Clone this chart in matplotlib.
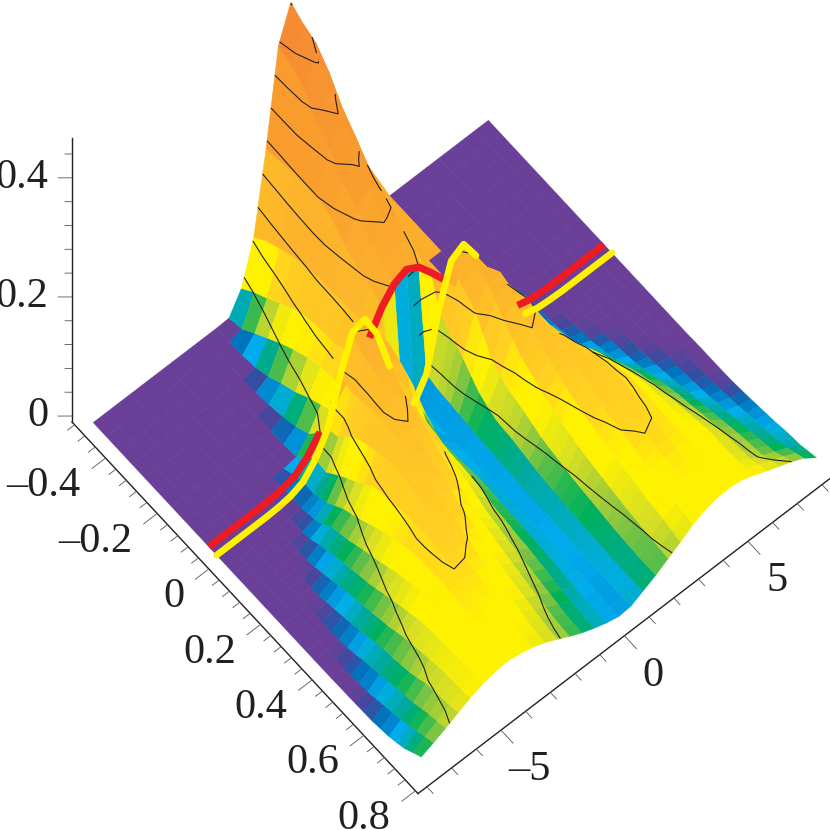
import numpy as np
import matplotlib
matplotlib.use("Agg")
import matplotlib.pyplot as plt
from matplotlib.colors import LinearSegmentedColormap
from mpl_toolkits.mplot3d import proj3d

plt.rcParams['font.family'] = ['Liberation Serif', 'DejaVu Serif']

# grid of the surface
x_vals = [-0.482, -0.432, -0.382, -0.332, -0.282, -0.232, -0.177, -0.127, -0.077, -0.034, -0.004, 0.038,
          0.063, 0.088, 0.12, 0.153, 0.185, 0.218, 0.25, 0.278, 0.31, 0.343, 0.375, 0.408, 0.44, 0.468,
          0.5, 0.533, 0.565, 0.598, 0.63, 0.663, 0.695, 0.723, 0.755, 0.788]
y_vals = [-8, -7.5, -7, -6.5, -6, -5.5, -5, -4.5, -4, -3.5, -3, -2.5, -2, -1.5, -1, -0.5, 0,
          0.5, 1, 1.5, 2, 2.5, 3, 3.5, 4, 4.5, 5, 5.5, 6, 6.5, 7, 7.5, 8]

height = [
    [0,0,0,0,0,0,0,0,0,0,0, .001,.035,.105,.238,.395,.452,.40,.33,.27,.2,.14,.09,.045,0,0, 0,0,0,0,0,0,0],
    [0,0,0,0,0,0,0,0,0,0,0, .006,.052,.122,.242,.385,.43,.39,.315,.245,.175,.12,.07,.025,0,0, 0,0,0,0,0,0,0],
    [0,0,0,0,0,0,0,0,0,0, .001,.022,.065,.133,.248,.37,.405,.365,.29,.22,.155,.1,.06,.015,0,0, 0,0,0,0,0,0,0],
    [0,0,0,0,0,0,0,0,0,0, .004,.037,.08,.143,.25,.335,.37,.33,.262,.195,.135,.09,.055,.007,0,0, 0,0,0,0,0,0,0],
    [0,0,0,0,0,0,0,0,0, .001,.012,.052,.095,.15,.25,.315,.34,.306,.24,.18,.125,.08,.045,0,0,0, 0,0,0,0,0,0,0],
    [0,0,0,0,0,0,0,0,0, .004,.024,.065,.104,.155,.24,.28,.307,.28,.218,.165,.115,.07,.033,0,0,0, 0,0,0,0,0,0,0],
    [0,0,0,0,0,0,0,0, .001,.009,.035,.077,.11,.155,.218,.26,.282,.262,.2,.155,.105,.05,.02,0,0,0, 0,0,0,0,0,0,0],
    [0,0,0,0,0,0,0,0, .002,.016,.049,.085,.11,.157,.204,.228,.253,.245,.19,.14,.09,.04,.015,0,0,0, 0,0,0,0,0,0,0],
    [0,0,0,0,0,0,0,0, .004,.027,.06,.088,.12,.16,.195,.215,.226,.228,.17,.135,.09,.04,.015,0,0,0, 0,0,0,0,0,0,0],
    [0,0,0,0,0, .001,.003,.009,.025,.05,.07,.095,.125,.145,.18,.203,.212,.2,.175,.148,.12,.095,.07,.045,.025,.009,.003,.001, 0,0,0,0,0],
    [0,0,0,0,0, .001,.004,.012,.034,.07,.143,.2,.206,.165,.095,.03,.002,.035,.128,.193,.205,.17,.12,.07,.03,.009,.003,.001, 0,0,0,0,0],
    [0,0,0,0,0, .001,.004,.012,.032,.075,.135,.18,.195,.17,.115,.04,.004,.03,.105,.17,.195,.17,.125,.075,.035,.011,.004,.001, 0,0,0,0,0],
    [0,0,0,0,.0005,.002,.006,.016,.041,.088,.138,.176,.187,.164,.11,.041,.005,.029,.098,.163,.19,.178,.133,.085,.045,.016,.005,.0015,.0005,0,0,0,0],
    [0,0,0,0, .001,.003,.008,.02,.05,.1,.14,.172,.178,.158,.105,.042,.006,.028,.09,.155,.185,.185,.14,.095,.055,.022,.007,.002,.001, 0,0,0,0],
    [0,0,0,0,.0015,.006,.015,.03,.06,.108,.143,.169,.164,.133,.081,.033,.0065,.026,.075,.128,.168,.18,.148,.1,.058,.026,.01,.0035,.0015,.0005,0,0,0],
    [0,0,0,0, .002,.012,.026,.04,.07,.115,.145,.165,.15,.108,.057,.025,.007,.025,.06,.1,.15,.175,.155,.105,.062,.03,.013,.005,.002,.001, 0,0,0],
    [0,0,0,.0005,.005,.017,.03,.046,.081,.12,.144,.157,.143,.106,.058,.026,.008,.023,.052,.09,.135,.162,.148,.11,.073,.042,.021,.009,.004,.0015,.0005,0,0],
    [0,0,0, .001,.009,.022,.034,.053,.093,.125,.142,.148,.135,.103,.058,.027,.009,.022,.045,.08,.12,.148,.14,.115,.085,.055,.03,.013,.006,.002,.001, 0,0],
    [0,0,.0002,.003,.013,.026,.04,.06,.097,.125,.139,.141,.127,.097,.058,.028,.0095,.021,.043,.076,.112,.139,.139,.118,.093,.065,.039,.018,.008,.003,.0015,.0005,0],
    [0,0, .0005,.005,.017,.029,.045,.067,.1,.125,.136,.134,.118,.09,.058,.03,.01,.02,.042,.072,.105,.13,.137,.12,.1,.075,.048,.024,.01,.004,.002,.001, 0],
    [0,0,.001,.008,.021,.033,.05,.073,.102,.122,.132,.129,.111,.085,.056,.03,.0105,.019,.039,.066,.096,.121,.133,.122,.104,.08,.054,.031,.015,.006,.003,.0015,.0005],
    [0,0, .002,.011,.024,.036,.055,.08,.104,.12,.128,.124,.103,.08,.054,.03,.011,.018,.036,.06,.088,.113,.128,.124,.108,.085,.06,.038,.02,.009,.004,.002,.001],
    [0,.0005,.003,.014,.028,.041,.061,.085,.106,.119,.122,.114,.094,.073,.05,.029,.0115,.017,.033,.056,.083,.106,.122,.121,.109,.088,.065,.043,.025,.012,.0055,.0025,.001],
    [0, .001,.005,.018,.031,.047,.067,.09,.108,.117,.116,.103,.085,.066,.046,.028,.012,.016,.031,.053,.078,.1,.116,.118,.11,.092,.07,.048,.03,.015,.007,.003,.001],
    [.0002,.0015,.008,.022,.035,.051,.071,.092,.106,.113,.11,.098,.08,.062,.045,.028,.012,.016,.03,.05,.074,.096,.11,.114,.108,.091,.072,.051,.034,.019,.009,.004,.0015],
    [.0005,.002,.012,.026,.038,.056,.075,.093,.104,.108,.104,.092,.075,.059,.043,.027,.012,.016,.028,.047,.07,.092,.105,.11,.105,.09,.073,.054,.037,.022,.011,.005,.002],
    [.0007,.0035,.015,.029,.043,.06,.079,.094,.102,.104,.098,.086,.07,.055,.041,.026,.0125,.016,.027,.045,.067,.088,.101,.106,.103,.09,.075,.057,.04,.025,.014,.007,.0035],
    [.001,.005,.018,.031,.048,.065,.082,.094,.1,.099,.092,.08,.066,.052,.04,.025,.013,.016,.026,.043,.064,.084,.097,.102,.1,.09,.076,.06,.044,.029,.017,.009,.005],
    [.0015,.008,.022,.034,.051,.068,.083,.093,.097,.095,.088,.076,.062,.049,.037,.024,.013,.0155,.025,.041,.061,.08,.094,.099,.098,.09,.078,.063,.047,.032,.02,.012,.007],
    [.002,.012,.025,.037,.054,.07,.083,.091,.094,.091,.083,.071,.058,.046,.035,.023,.013,.015,.024,.039,.058,.077,.09,.096,.096,.09,.079,.066,.05,.036,.024,.015,.009],
    [.004,.015,.028,.042,.057,.071,.083,.089,.091,.088,.08,.068,.055,.043,.032,.021,.013,.0145,.023,.037,.055,.073,.087,.093,.093,.088,.079,.067,.052,.039,.027,.017,.011],
    [.006,.018,.031,.048,.06,.072,.082,.087,.088,.084,.076,.065,.052,.04,.03,.02,.013,.014,.022,.036,.053,.07,.083,.09,.09,.086,.078,.067,.054,.042,.03,.02,.014],
    [.01,.023,.036,.05,.062,.073,.081,.085,.085,.08,.072,.061,.048,.037,.027,.018,.0125,.0135,.021,.035,.051,.068,.08,.087,.089,.085,.078,.067,.055,.044,.033,.023,.016],
    [.014,.028,.04,.052,.063,.074,.08,.083,.082,.076,.068,.058,.045,.034,.025,.017,.012,.013,.021,.034,.05,.066,.078,.085,.087,.085,.078,.068,.056,.046,.036,.027,.017],
    [.022,.033,.043,.054,.064,.074,.079,.082,.079,.074,.065,.055,.043,.033,.024,.017,.012,.0135,.022,.034,.048,.062,.075,.083,.086,.085,.08,.071,.061,.052,.043,.033,.021],
    [.03,.038,.047,.057,.066,.074,.078,.08,.076,.071,.063,.053,.042,.032,.024,.017,.012,.014,.024,.034,.046,.058,.071,.08,.085,.086,.083,.075,.066,.058,.05,.04,.025],
]
red_row = 9
yellow_row = 10
red_hidden = [-3, -2.5, -2, 2, 2.5, 3, 3.5, 4]
yellow_hidden = [-0.5, 3, 3.5, 4]

contour_levels = [0.05, 0.10, 0.15, 0.20, 0.25, 0.30, 0.35, 0.40, 0.45]

# colour against height
color_z = [0, .0015, .004, .007, .014, .022, .03, .042, .055, .07, .085, .10, .13, .19, .27, .40, .47]
color_hex = ['#6A3F98', '#6A3F98', '#3A4BA0', '#0072BC', '#00AEEF', '#00A99D', '#00B159', '#8DC63F',
             '#D7DF23', '#FFF200', '#FFF200', '#FFD320', '#FFC425', '#FBAF2C', '#F99D2C', '#F68B33', '#F68B33']

x_ticks = [-0.4, -0.2, 0, 0.2, 0.4, 0.6, 0.8]
x_labels = ['\u20130.4', '\u20130.2', '0', '0.2', '0.4', '0.6', '0.8']
y_ticks = [-5, 0, 5]
y_labels = ['\u20135', '0', '5']
z_ticks = [0, 0.2, 0.4]
z_labels = ['0', '0.2', '0.4']

X0, X1 = -0.53, 0.81
Y0, Y1 = -8.36, 8.4
Z0, Z1 = -0.01, 0.4666
text_col = '#231f20'

fig = plt.figure(figsize=(8.3, 8.3), dpi=100)
ax = fig.add_axes([0, 0, 1, 1], projection='3d', proj_type='ortho', computed_zorder=False)
ax.set_axis_off()
ax.patch.set_visible(False)
ax.view_init(elev=65.0, azim=-40.16)
ax.set_xlim(X0, X1)
ax.set_ylim(Y0, Y1)
ax.set_zlim(Z0, Z1)
ax.set_box_aspect((536, 541, 671))


def to_px(px, py, pz):
    a, b, _ = proj3d.proj_transform(px, py, pz, ax.get_proj())
    d = ax.transData.transform(np.column_stack([a, b]))
    return d[:, 0], 830 - d[:, 1]


# place the axes so the x axis runs from (72,422) to (418,793)
for i in range(3):
    ax.apply_aspect()
    sx, sy = to_px(np.array([X0, X1]), np.array([Y0, Y0]), np.array([Z0, Z0]))
    s = 346.0 / (sx[1] - sx[0])
    p = ax.get_position()
    ax.set_position([p.x0, p.y0, p.width * s, p.height * s])
    ax.apply_aspect()
    sx, sy = to_px(np.array([X0]), np.array([Y0]), np.array([Z0]))
    p = ax.get_position()
    ax.set_position([p.x0 + (72 - sx[0]) / 830, p.y0 + (sy[0] - 422) / 830, p.width, p.height])

X, Y = np.meshgrid(np.array(x_vals), np.array(y_vals), indexing='ij')
Z = np.array(height, dtype=float)

cmap = LinearSegmentedColormap.from_list('hue', [(z / 0.47, c) for z, c in zip(color_z, color_hex)], N=2048)

# each facet takes the colour of its lower edge, leaning to the lower corner
face = np.zeros(Z.shape + (4,))
lo = np.minimum(Z[1:, :-1], Z[1:, 1:])
hi = np.maximum(Z[1:, :-1], Z[1:, 1:])
face[:-1, :-1] = cmap((0.7 * lo + 0.3 * hi) / 0.47)
# the wall between the two cuts
face[red_row, :-1] = cmap((Z[yellow_row, :-1] + Z[yellow_row, 1:]) / 2 / 0.47)
# back side of the tall lobe stays orange right down to the flat part
for i in range(red_row):
    for j in range(19, Z.shape[1] - 1):
        if Z[i, j:j + 2].max() > 0:
            face[i, j] = cmap(0.2 / 0.47)
ax.plot_surface(X, Y, Z, facecolors=face, rstride=1, cstride=1, shade=False,
                linewidth=0.4, antialiased=True, zorder=1)
ax.set_xlim(X0, X1)
ax.set_ylim(Y0, Y1)
ax.set_zlim(Z0, Z1)

# contours are only drawn where the surface is not hidden
ax.apply_aspect()
sx, sy = to_px(X.ravel(), Y.ravel(), Z.ravel())
sx0, sy0 = to_px(X.ravel(), Y.ravel(), 0 * Z.ravel())
bins = ((sx + 100) / 5).astype(int)
top = np.full(bins.max() + 5, 1e9)
seen = np.zeros(sx.size, dtype=bool)
for k in np.argsort(-sy0):
    b = bins[k]
    seen[k] = sy[k] <= top[b] + 8
    top[b - 2:b + 3] = np.minimum(top[b - 2:b + 3], sy[k])
Zc = np.ma.masked_where(~seen.reshape(Z.shape), Z)
ax.contour(X, Y, Zc, levels=contour_levels, colors=text_col, linewidths=0.8, zorder=3)
ax.set_xlim(X0, X1)
ax.set_ylim(Y0, Y1)
ax.set_zlim(Z0, Z1)

# the two cuts
yy = np.array(y_vals)
zr = np.where(np.isin(yy, red_hidden), np.nan, Z[red_row])
zy = np.where(np.isin(yy, yellow_hidden), np.nan, Z[yellow_row])
ax.plot(np.full(yy.size, x_vals[red_row]), yy, zr, color='#ED1C24', lw=5.2, zorder=4,
        solid_capstyle='butt', solid_joinstyle='round')
ax.plot(np.full(yy.size, x_vals[yellow_row]), yy, zy, color='#FFF200', lw=4.8, zorder=5,
        solid_capstyle='round', solid_joinstyle='round')


def seg(a, b, lw=0.8, col=text_col):
    ax.plot([a[0], b[0]], [a[1], b[1]], [a[2], b[2]], color=col, lw=lw, zorder=6, clip_on=False)


# axes
seg((X0, Y0, Z0), (X1, Y0, Z0), 1.0)
seg((X1, Y0, Z0), (X1, Y1, Z0), 1.0)
seg((X0, Y0, Z0), (X0, Y0, Z1), 1.0)

for t in np.arange(-0.52, 0.81, 0.04):
    t = round(t, 2)
    major = t in x_ticks
    seg((t, Y0, Z0), (t, Y0 - (0.55 if major else 0.28), Z0), 0.6, '#555555')
for t in range(-8, 9):
    major = t in y_ticks
    seg((X1, t, Z0), (X1 + (0.047 if major else 0.024), t, Z0), 0.6, '#555555')
for t in np.arange(0, 0.45, 0.04):
    t = round(t, 2)
    major = t in z_ticks
    f = 1.0 if major else 0.5
    seg((X0, Y0, t), (X0 - 0.0224 * f, Y0 - 0.33 * f, t), 0.6, '#555555')

fs = 30.5
for t, s in zip(x_ticks, x_labels):
    ax.text(t, Y0 - 1.0, Z0 - 0.015, s, ha='right', va='center', fontsize=fs, color=text_col, zorder=7)
for t, s in zip(y_ticks, y_labels):
    ax.text(X1 + 0.13, t - 0.2, Z0, s, ha='center', va='center', fontsize=fs, color=text_col, zorder=7)
for t, s in zip(z_ticks, z_labels):
    ax.text(X0 - 0.038, Y0 - 0.565, t, s, ha='right', va='center', fontsize=fs, color=text_col, zorder=7)

fig.savefig('out.png', dpi=100)
